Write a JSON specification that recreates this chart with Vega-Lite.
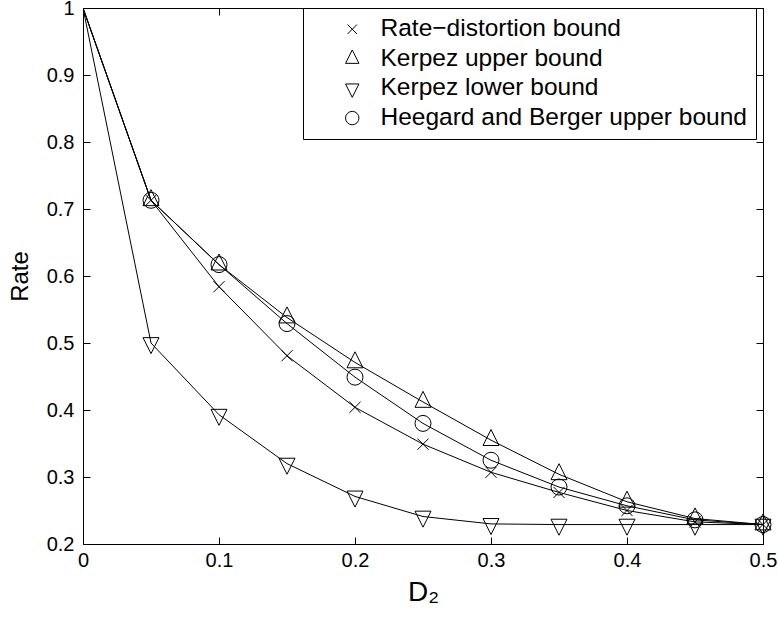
{
  "$schema": "https://vega.github.io/schema/vega-lite/v6.json",
  "autosize": {"type": "none"},
  "width": 680,
  "height": 536,
  "padding": {"left": 83, "top": 8, "right": 15, "bottom": 76},
  "background": "white",
  "config": {
    "view": {"stroke": "black", "strokeWidth": 1},
    "axis": {
      "domain": false, "grid": false, "ticks": true, "tickColor": "black", "tickSize": -7, "tickWidth": 1,
      "labelFont": "Liberation Sans", "labelFontSize": 20, "labelColor": "black",
      "titleFont": "Liberation Sans", "titleFontSize": 24, "titleFontWeight": "normal", "titleColor": "black",
      "labelFlush": false
    }
  },
  "data": {"values": [
    {"D": 0, "series": "Rate\u2212distortion bound", "rate": 1},
    {"D": 0.05, "series": "Rate\u2212distortion bound", "rate": 0.713},
    {"D": 0.1, "series": "Rate\u2212distortion bound", "rate": 0.584},
    {"D": 0.15, "series": "Rate\u2212distortion bound", "rate": 0.481},
    {"D": 0.2, "series": "Rate\u2212distortion bound", "rate": 0.404},
    {"D": 0.25, "series": "Rate\u2212distortion bound", "rate": 0.349},
    {"D": 0.3, "series": "Rate\u2212distortion bound", "rate": 0.307},
    {"D": 0.35, "series": "Rate\u2212distortion bound", "rate": 0.277},
    {"D": 0.4, "series": "Rate\u2212distortion bound", "rate": 0.25},
    {"D": 0.45, "series": "Rate\u2212distortion bound", "rate": 0.233},
    {"D": 0.5, "series": "Rate\u2212distortion bound", "rate": 0.229},
    {"D": 0, "series": "Kerpez upper bound", "rate": 1},
    {"D": 0.05, "series": "Kerpez upper bound", "rate": 0.713},
    {"D": 0.1, "series": "Kerpez upper bound", "rate": 0.617},
    {"D": 0.15, "series": "Kerpez upper bound", "rate": 0.538},
    {"D": 0.2, "series": "Kerpez upper bound", "rate": 0.471},
    {"D": 0.25, "series": "Kerpez upper bound", "rate": 0.412},
    {"D": 0.3, "series": "Kerpez upper bound", "rate": 0.355},
    {"D": 0.35, "series": "Kerpez upper bound", "rate": 0.304},
    {"D": 0.4, "series": "Kerpez upper bound", "rate": 0.263},
    {"D": 0.45, "series": "Kerpez upper bound", "rate": 0.238},
    {"D": 0.5, "series": "Kerpez upper bound", "rate": 0.229},
    {"D": 0, "series": "Kerpez lower bound", "rate": 1},
    {"D": 0.05, "series": "Kerpez lower bound", "rate": 0.5},
    {"D": 0.1, "series": "Kerpez lower bound", "rate": 0.393},
    {"D": 0.15, "series": "Kerpez lower bound", "rate": 0.32},
    {"D": 0.2, "series": "Kerpez lower bound", "rate": 0.271},
    {"D": 0.25, "series": "Kerpez lower bound", "rate": 0.241},
    {"D": 0.3, "series": "Kerpez lower bound", "rate": 0.23},
    {"D": 0.35, "series": "Kerpez lower bound", "rate": 0.229},
    {"D": 0.4, "series": "Kerpez lower bound", "rate": 0.229},
    {"D": 0.45, "series": "Kerpez lower bound", "rate": 0.229},
    {"D": 0.5, "series": "Kerpez lower bound", "rate": 0.229},
    {"D": 0, "series": "Heegard and Berger upper bound", "rate": 1},
    {"D": 0.05, "series": "Heegard and Berger upper bound", "rate": 0.713},
    {"D": 0.1, "series": "Heegard and Berger upper bound", "rate": 0.617},
    {"D": 0.15, "series": "Heegard and Berger upper bound", "rate": 0.529},
    {"D": 0.2, "series": "Heegard and Berger upper bound", "rate": 0.449},
    {"D": 0.25, "series": "Heegard and Berger upper bound", "rate": 0.38},
    {"D": 0.3, "series": "Heegard and Berger upper bound", "rate": 0.325},
    {"D": 0.35, "series": "Heegard and Berger upper bound", "rate": 0.285},
    {"D": 0.4, "series": "Heegard and Berger upper bound", "rate": 0.257},
    {"D": 0.45, "series": "Heegard and Berger upper bound", "rate": 0.236},
    {"D": 0.5, "series": "Heegard and Berger upper bound", "rate": 0.229}
  ]},
  "layer": [
    {
      "mark": {"type": "line", "color": "black", "strokeWidth": 1, "clip": true},
      "encoding": {
        "x": {"field": "D", "type": "quantitative", "scale": {"domain": [0, 0.5], "nice": false},
              "axis": {"orient": "bottom", "values": [0, 0.1, 0.2, 0.3, 0.4, 0.5], "format": "~g", "labelPadding": 13, "title": "D\u2082", "titleFontSize": 28, "titlePadding": 8}},
        "y": {"field": "rate", "type": "quantitative", "scale": {"domain": [0.2, 1], "nice": false, "zero": false},
              "axis": {"orient": "left", "values": [0.2, 0.3, 0.4, 0.5, 0.6, 0.7, 0.8, 0.9, 1], "format": "~g", "labelPadding": 16, "title": "Rate", "titlePadding": 14}},
        "detail": {"field": "series"}
      }
    },
    {
      "transform": [{"filter": "datum.D > 0"}],
      "mark": {"type": "point", "filled": false, "stroke": "black", "strokeWidth": 1, "size": 256, "opacity": 1},
      "encoding": {
        "x": {"field": "D", "type": "quantitative", "axis": null},
        "y": {"field": "rate", "type": "quantitative", "axis": null},
        "shape": {
          "field": "series", "type": "nominal",
          "scale": {
            "domain": ["Rate\u2212distortion bound", "Kerpez upper bound", "Kerpez lower bound", "Heegard and Berger upper bound"],
            "range": ["M-0.7,-0.7L0.7,0.7M-0.7,0.7L0.7,-0.7", "M-1,0.67L1,0.67L0,-1.33Z", "M-1,-0.67L1,-0.67L0,1.33Z", "circle"]
          },
          "legend": {
            "orient": "none", "legendX": 220, "legendY": 0, "title": null,
            "strokeColor": "black", "fillColor": "white", "padding": 9,
            "symbolOffset": 28, "symbolSize": 180, "symbolStrokeColor": "black", "symbolStrokeWidth": 1, "symbolFillColor": "transparent",
            "labelFont": "Liberation Sans", "labelFontSize": 24.5, "labelColor": "black", "labelOffset": 16,
            "rowPadding": 4.6, "labelLimit": 500
          }
        }
      }
    },
    {
      "mark": {"type": "point", "opacity": 0},
      "encoding": {
        "x": {"field": "D", "type": "quantitative",
              "axis": {"orient": "top", "values": [0, 0.1, 0.2, 0.3, 0.4, 0.5], "labels": false, "title": null}},
        "y": {"field": "rate", "type": "quantitative",
              "axis": {"orient": "right", "values": [0.2, 0.3, 0.4, 0.5, 0.6, 0.7, 0.8, 0.9, 1], "labels": false, "title": null}}
      }
    }
  ],
  "resolve": {"axis": {"x": "independent", "y": "independent"}}
}
